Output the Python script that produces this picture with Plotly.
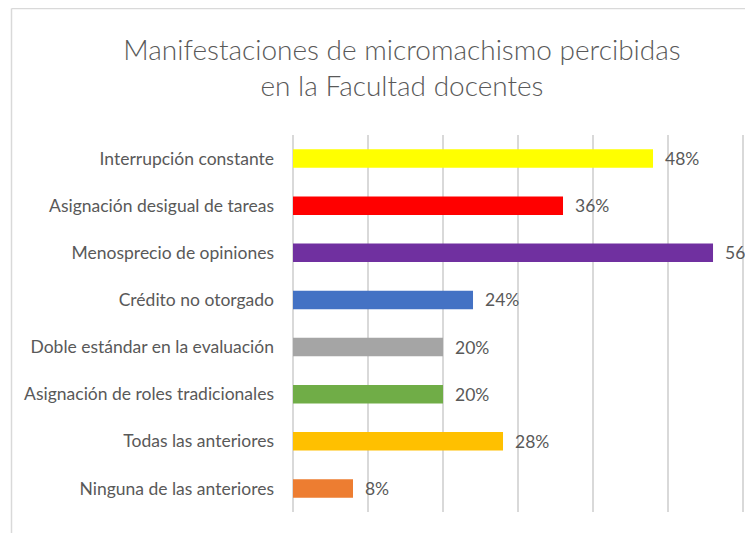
import plotly.graph_objects as go

categories = [
    "Interrupción constante",
    "Asignación desigual de tareas",
    "Menosprecio de opiniones",
    "Crédito no otorgado",
    "Doble estándar en la evaluación",
    "Asignación de roles tradicionales",
    "Todas las anteriores",
    "Ninguna de las anteriores",
]
values = [0.48, 0.36, 0.56, 0.24, 0.20, 0.20, 0.28, 0.08]
colors = ["#FFFF00", "#FF0000", "#7030A0", "#4472C4",
          "#A5A5A5", "#70AD47", "#FFC000", "#ED7D31"]

GREY = "#595959"
FONT = "Lato"

fig = go.Figure(go.Bar(
    x=values,
    y=categories,
    orientation="h",
    marker=dict(color=colors, line=dict(width=0)),
    text=["  " + f"{v:.0%}" for v in values],
    textposition="outside",
    constraintext="none",
    textfont=dict(family=FONT, size=17.5, color=GREY),
    cliponaxis=False,
    hoverinfo="skip",
))

# page body has an 8px margin, so the figure is drawn 8px in from the window corner
W, H = 745, 525
L, T, B = 285, 127, 21
pw, ph = W - L, H - T - B
px = lambda x: (x - L) / pw
py = lambda y: (H - B - y) / ph
# chart frame (left and top edges visible in the crop)
fig.add_shape(type="line", xref="paper", yref="paper",
              x0=px(3.5), x1=px(3.5), y0=py(0.5), y1=py(540),
              line=dict(color="#D9D9D9", width=1.5))
fig.add_shape(type="line", xref="paper", yref="paper",
              x0=px(3.5), x1=px(760), y0=py(0.5), y1=py(0.5),
              line=dict(color="#D9D9D9", width=1.5))

fig.update_layout(
    width=W, height=H,
    margin=dict(l=L, r=0, t=T, b=B),
    title=dict(
        text="Manifestaciones de micromachismo percibidas<br>en la Facultad docentes",
        x=394 / W, xanchor="center", y=1 - 52 / H, yanchor="top",
        font=dict(family=FONT, size=28, color=GREY, weight=300),
    ),
    bargap=0.61,
    showlegend=False,
    plot_bgcolor="white",
    paper_bgcolor="white",
    xaxis=dict(range=[0, 0.6133], dtick=0.1, showticklabels=False,
               showgrid=True, gridcolor="#D9D9D9", gridwidth=1.5,
               zeroline=True, zerolinecolor="#D9D9D9", zerolinewidth=1.5,
               showline=False, fixedrange=True, automargin=False),
    yaxis=dict(autorange="reversed", showgrid=False, showline=False,
               ticks="", ticklabelstandoff=18, automargin=False,
               tickfont=dict(family=FONT, size=17.5, color=GREY)),
)

fig.write_html("out.html")
